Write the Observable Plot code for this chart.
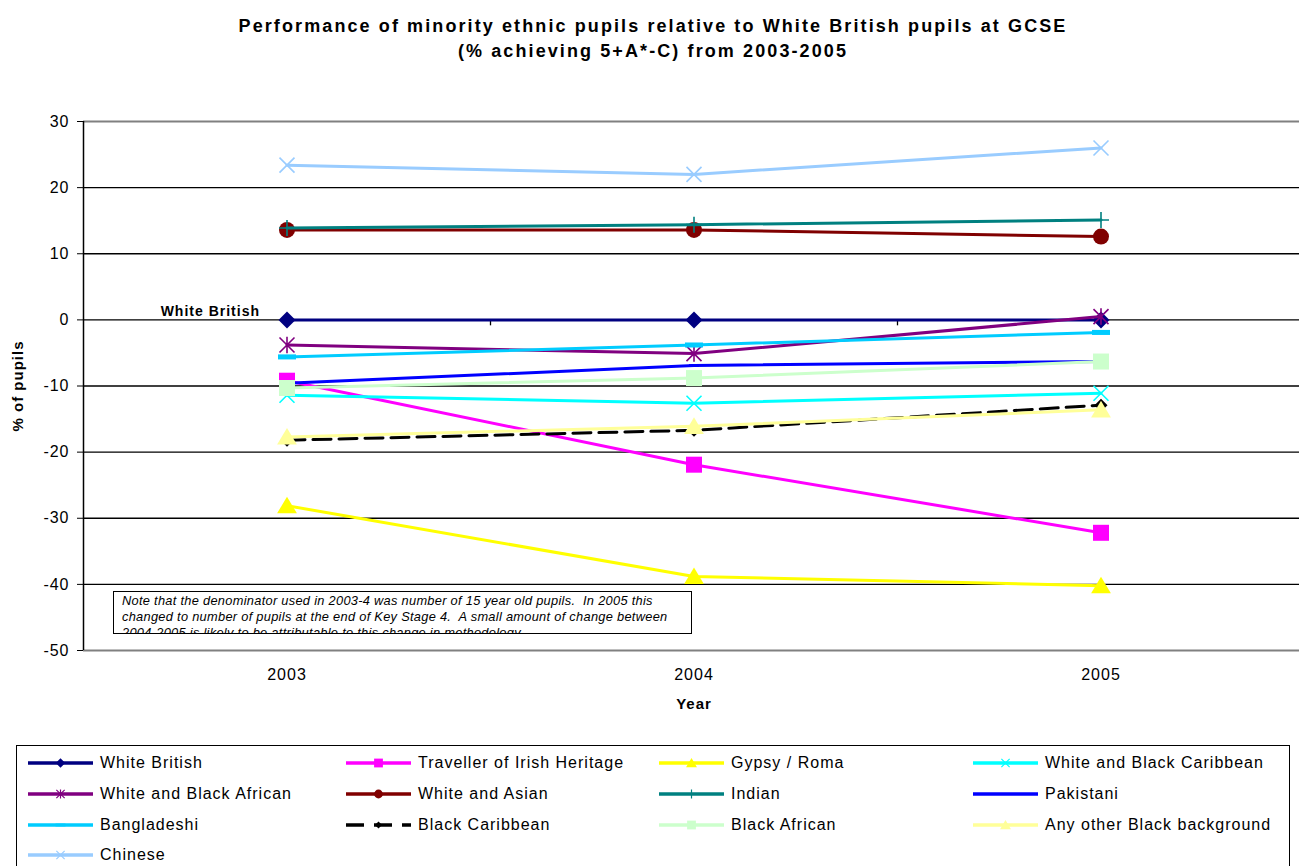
<!DOCTYPE html>
<html>
<head>
<meta charset="utf-8">
<script src="https://cdn.jsdelivr.net/npm/d3@7"></script>
<script src="https://cdn.jsdelivr.net/npm/@observablehq/plot@0.6"></script>
<style>
  body { margin: 0; background: #fff; font-family: Arial, "Liberation Sans", sans-serif; }
  #wrap { position: relative; width: 1299px; height: 866px; overflow: hidden; background: #fff; }
  #title { position: absolute; left: 0; top: 14px; width: 1306px; text-align: center;
           font-weight: bold; font-size: 18px; line-height: 25px; letter-spacing: 2.1px; color: #000; }
  #chart { position: absolute; left: 0; top: 0; }
  #chart svg text { letter-spacing: 1px; }
  #note { position: absolute; left: 113px; top: 591px; width: 579px; height: 43px; box-sizing: border-box;
          border: 1.5px solid #000; background: #fff; overflow: hidden; font-style: italic;
          font-size: 12.8px; line-height: 16px; letter-spacing: 0.3px; padding: 1px 0 0 8px;
          color: #000; white-space: nowrap; }
  #legend { position: absolute; left: 16px; top: 745px; width: 1274px; height: 140px;
            border: 1.5px solid #000; box-sizing: border-box; background: #fff; }
  .item { position: absolute; height: 20px; display: flex; align-items: center;
          font-size: 16px; letter-spacing: 1px; color: #000; white-space: nowrap; }
  .item svg { margin-right: 7px; }
</style>
</head>
<body>
<div id="wrap">
  <div id="title">Performance of minority ethnic pupils relative to White British pupils at GCSE<br>(% achieving 5+A*-C) from 2003-2005</div>
  <div id="chart"></div>
  <div id="note">Note that the denominator used in 2003-4 was number of 15 year old pupils.&nbsp; In 2005 this<br>changed to number of pupils at the end of Key Stage 4.&nbsp; A small amount of change between<br>2004-2005 is likely to be attributable to this change in methodology.</div>
  <div id="legend"></div>
</div>
<script>
// Years on the category axis
const years = [2003, 2004, 2005];

// Ethnic groups, in series order
const groupNames = [
  "White British", "Traveller of Irish Heritage", "Gypsy / Roma", "White and Black Caribbean",
  "White and Black African", "White and Asian", "Indian", "Pakistani",
  "Bangladeshi", "Black Caribbean", "Black African", "Any other Black background",
  "Chinese"
];

// Percentage-point gap to White British pupils (% achieving 5+ A*-C), 2003-2005
const whiteBritish        = [0, 0, 0];
const travellerIrish      = [-9.2, -21.9, -32.2];
const gypsyRoma           = [-28.1, -38.8, -40.2];
const whiteBlackCaribbean = [-11.4, -12.6, -11.1];
const whiteBlackAfrican   = [-3.8, -5.1, 0.5];
const whiteAsian          = [13.6, 13.6, 12.6];
const indian              = [13.9, 14.4, 15.1];
const pakistani           = [-9.6, -6.9, -6.3];
const bangladeshi         = [-5.6, -3.8, -1.9];
const blackCaribbean      = [-18.2, -16.7, -12.9];
const blackAfrican        = [-10.3, -8.8, -6.3];
const otherBlack          = [-17.7, -16.1, -13.6];
const chinese             = [23.4, 22.0, 26.0];

const seriesValues = [
  whiteBritish, travellerIrish, gypsyRoma, whiteBlackCaribbean,
  whiteBlackAfrican, whiteAsian, indian, pakistani,
  bangladeshi, blackCaribbean, blackAfrican, otherBlack,
  chinese
];

// Y axis ticks
const yTicks = [-50, -40, -30, -20, -10, 0, 10, 20, 30];

// Long-format table for Plot
const rows = groupNames.flatMap((group, i) =>
  years.map((year, j) => ({group, year, value: seriesValues[i][j]})));

// Marker shapes (r is recovered from the area Plot passes in)
const sym = (fn) => ({draw(c, size) { fn(c, Math.sqrt(size / Math.PI)); }});
const diamond = sym((c, r) => { c.moveTo(0, -r); c.lineTo(r, 0); c.lineTo(0, r); c.lineTo(-r, 0); c.closePath(); });
const square = sym((c, r) => { c.rect(-r, -r, 2 * r, 2 * r); });
const triangle = sym((c, r) => { c.moveTo(0, -r); c.lineTo(r * 1.1, r * 0.85); c.lineTo(-r * 1.1, r * 0.85); c.closePath(); });
const circle = sym((c, r) => { c.moveTo(r, 0); c.arc(0, 0, r, 0, 2 * Math.PI); });
const cross = sym((c, r) => { c.moveTo(-r, -r); c.lineTo(r, r); c.moveTo(r, -r); c.lineTo(-r, r); });
const plus = sym((c, r) => { c.moveTo(-r, 0); c.lineTo(r, 0); c.moveTo(0, -r); c.lineTo(0, r); });
const star = sym((c, r) => { c.moveTo(-r, -r); c.lineTo(r, r); c.moveTo(r, -r); c.lineTo(-r, r); c.moveTo(0, -r * 1.1); c.lineTo(0, r * 1.1); });
const dash = sym((c, r) => { c.rect(-r, -r * 0.28, 2 * r, r * 0.56); });

const styles = {
  "White British":               {color: "#000080", symbol: diamond,  r: 8.5, filled: true},
  "Traveller of Irish Heritage": {color: "#FF00FF", symbol: square,   r: 8,   filled: true},
  "Gypsy / Roma":                {color: "#FFFF00", symbol: triangle, r: 9,   filled: true},
  "White and Black Caribbean":   {color: "#00FFFF", symbol: cross,    r: 7.5, filled: false},
  "White and Black African":     {color: "#800080", symbol: star,     r: 7.5, filled: false},
  "White and Asian":             {color: "#800000", symbol: circle,   r: 8,   filled: true},
  "Indian":                      {color: "#008080", symbol: plus,     r: 8,   filled: false},
  "Pakistani":                   {color: "#0000FF", symbol: dash,     r: 5,   filled: true},
  "Bangladeshi":                 {color: "#00CCFF", symbol: dash,     r: 9,   filled: true},
  "Black Caribbean":             {color: "#000000", symbol: diamond,  r: 6.5, filled: true, dash: "18,8"},
  "Black African":               {color: "#CCFFCC", symbol: square,   r: 8,   filled: true},
  "Any other Black background":  {color: "#FFFF99", symbol: triangle, r: 9,   filled: true},
  "Chinese":                     {color: "#99CCFF", symbol: cross,    r: 7.5, filled: false}
};

const seriesMarks = groupNames.flatMap((g) => {
  const st = styles[g];
  const data = rows.filter((d) => d.group === g);
  return [
    Plot.line(data, {x: "year", y: "value", stroke: st.color, strokeWidth: 3,
                     strokeDasharray: st.dash, strokeLinejoin: "round"}),
    Plot.dot(data, {x: "year", y: "value", symbol: st.symbol, r: st.r,
                    fill: st.filled ? st.color : "none",
                    stroke: st.filled ? "none" : st.color,
                    strokeWidth: st.filled ? 0 : 1.6})
  ];
});

const chart = Plot.plot({
  width: 1299,
  height: 735,
  marginTop: 121,
  marginBottom: 85,
  marginLeft: 83,
  marginRight: 0,
  style: {fontFamily: "Arial, 'Liberation Sans', sans-serif", color: "#000", background: "transparent"},
  x: {type: "linear", domain: [years[0] - 0.5, years[years.length - 1] + 0.5], range: [83, 1304]},
  y: {domain: [yTicks[0], yTicks[yTicks.length - 1]]},
  marks: [
    Plot.ruleY(yTicks.slice(1, -1), {stroke: "#000", strokeWidth: 1.3}),
    Plot.ruleY([yTicks[0], yTicks[yTicks.length - 1]], {stroke: "#808080", strokeWidth: 2}),
    Plot.ruleX([years[0] - 0.5], {stroke: "#000", strokeWidth: 1.5}),
    Plot.ruleX(years.slice(1).map((y) => y - 0.5), {y1: 0, y2: -0.9, stroke: "#000", strokeWidth: 1.3}),
    Plot.axisY(yTicks, {tickSize: 6, tickPadding: 8, fontSize: 16, label: null, stroke: "#000",
                        tickFormat: (d) => String(d)}),
    Plot.axisX(years, {tickSize: 0, tickPadding: 18, fontSize: 16, label: null, tickFormat: (d) => String(d)}),
    ...seriesMarks,
    Plot.text([groupNames[0]], {x: () => years[0], y: () => whiteBritish[0], textAnchor: "end",
                                dx: -27, dy: -8.5, fontSize: 14, fontWeight: "bold"}),
    Plot.text(["% of pupils"], {frameAnchor: "left", dx: -65, rotate: -90, textAnchor: "middle",
                                fontSize: 15, fontWeight: "bold"}),
    Plot.text(["Year"], {x: () => d3.mean(years), frameAnchor: "bottom", dy: 58,
                         fontSize: 15, fontWeight: "bold"})
  ]
});
document.getElementById("chart").appendChild(chart);

// Legend: four columns, series order left to right
const legend = d3.select("#legend");
const colX = [11, 329, 642, 956];
const rowY = [7, 38, 69, 99];
groupNames.forEach((g, i) => {
  const st = styles[g];
  const item = legend.append("div").attr("class", "item")
    .style("left", colX[i % 4] + "px").style("top", rowY[Math.floor(i / 4)] + "px");
  const sw = item.append("svg").attr("width", 65).attr("height", 14);
  sw.append("line").attr("x1", 0).attr("x2", 65).attr("y1", 7).attr("y2", 7)
    .attr("stroke", st.color).attr("stroke-width", 3.5)
    .attr("stroke-dasharray", st.dash ? "18,10" : null);
  const p = d3.path();
  const rr = Math.min(st.r * 0.55, 5);
  st.symbol.draw(p, rr * rr * Math.PI);
  sw.append("path").attr("transform", "translate(32.5,7)").attr("d", p.toString())
    .attr("fill", st.filled ? st.color : "none")
    .attr("stroke", st.filled ? "none" : st.color).attr("stroke-width", 1.2);
  item.append("span").text(g);
});
</script>
</body>
</html>
